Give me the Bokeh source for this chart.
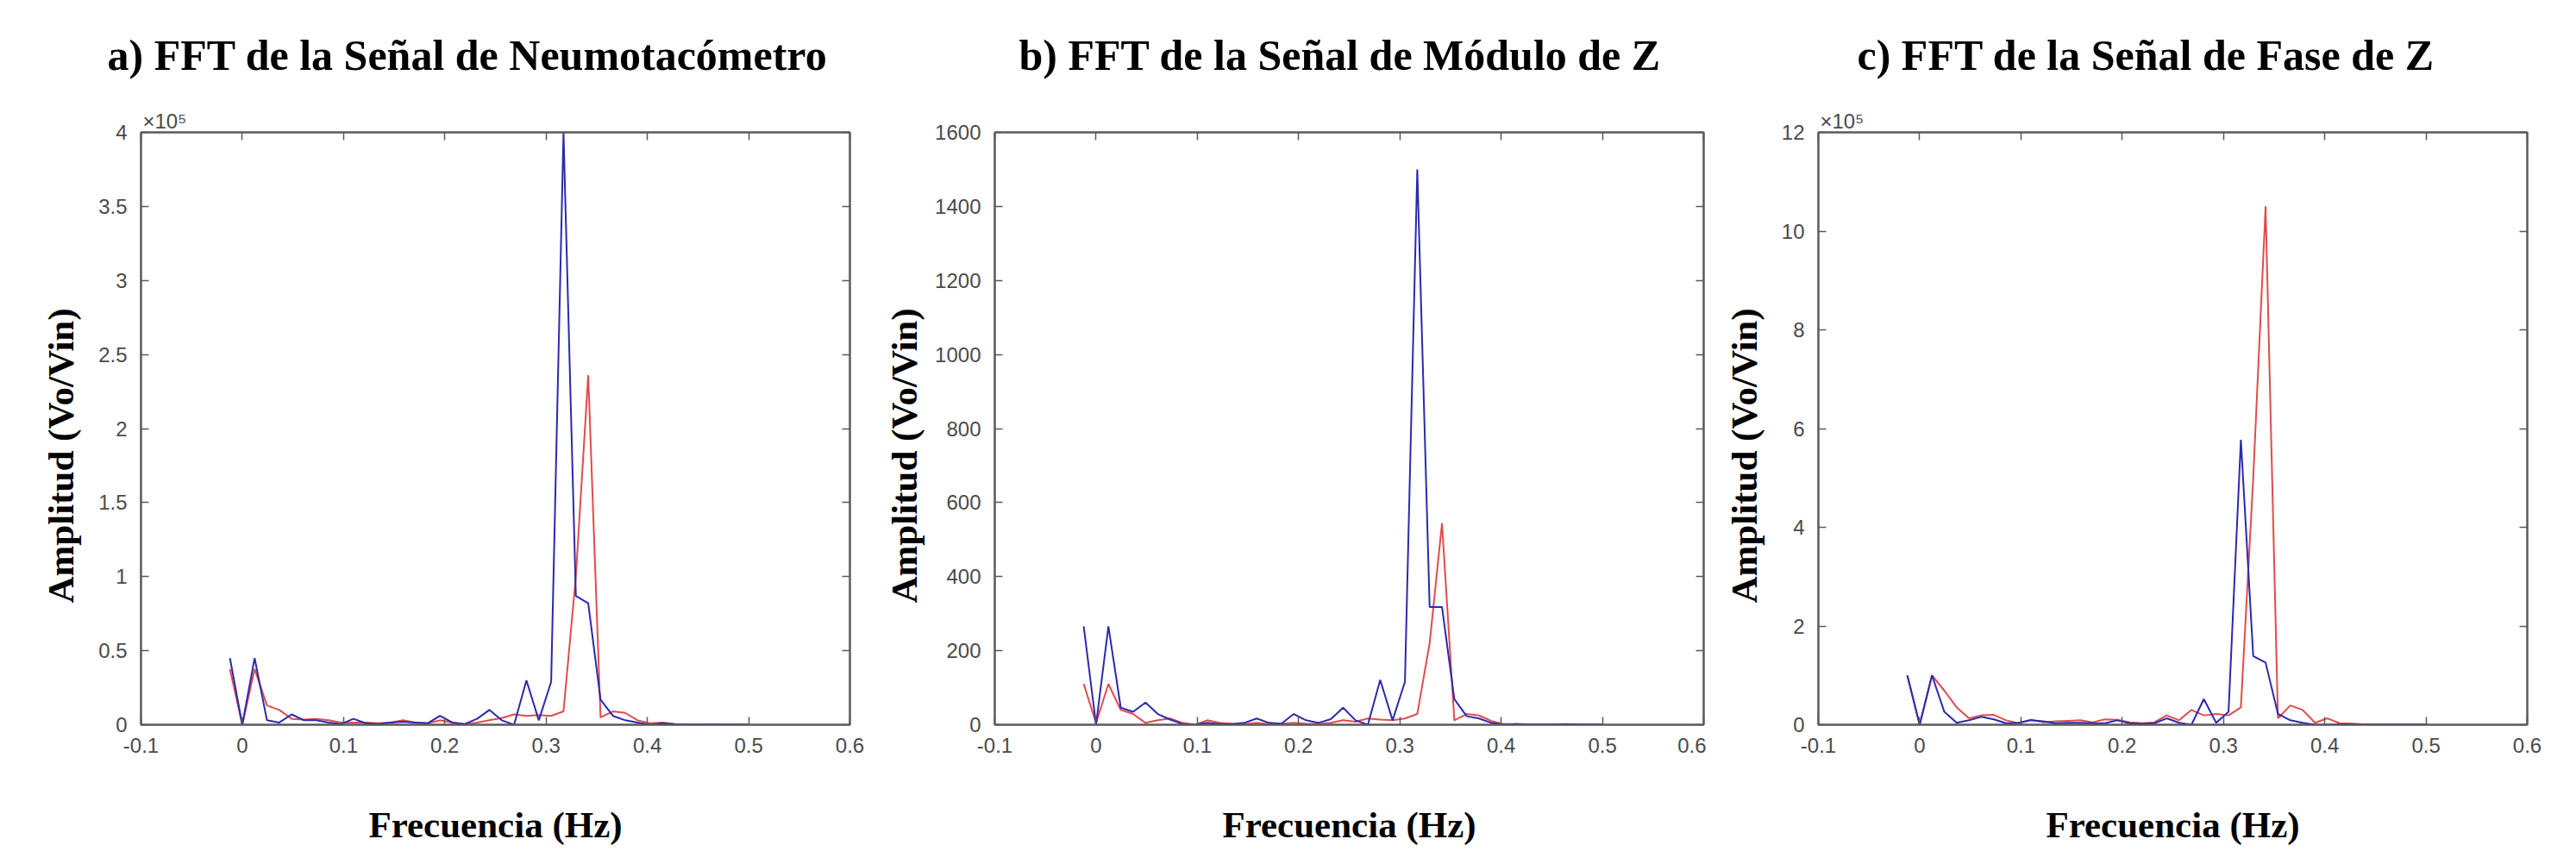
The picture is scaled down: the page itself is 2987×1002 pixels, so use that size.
from bokeh.plotting import figure
from bokeh.layouts import row
from bokeh.models import Range1d, FixedTicker, LinearAxis, Title
from bokeh.embed import file_html
from bokeh.resources import INLINE

# Frequency bins (Hz)
freq = [-0.0122, 0.0, 0.0122, 0.0244, 0.0366, 0.0488, 0.061, 0.0732, 0.0854, 0.0976,
        0.1098, 0.122, 0.1342, 0.1464, 0.1586, 0.1708, 0.183, 0.1952, 0.2074, 0.2196,
        0.2318, 0.244, 0.2562, 0.2684, 0.2806, 0.2928, 0.305, 0.3172, 0.3294, 0.3416,
        0.3538, 0.366, 0.3782, 0.3904, 0.4026, 0.4148, 0.427, 0.4392, 0.4514, 0.4636,
        0.4758, 0.488, 0.5002]

# a) Neumotacometro (x 1e5)
neumo_blue = [0.45, 0.0, 0.45, 0.03, 0.015, 0.07, 0.03, 0.03, 0.015, 0.005,
              0.04, 0.01, 0.005, 0.015, 0.02, 0.015, 0.01, 0.06, 0.015, 0.005,
              0.04, 0.10, 0.03, 0.0, 0.30, 0.03, 0.29, 4.0, 0.87, 0.82,
              0.17, 0.06, 0.03, 0.015, 0.0, 0.01, 0.005, 0.003, 0.002, 0.003,
              0.002, 0.001, 0.001]
neumo_red = [0.376, 0.0, 0.376, 0.13, 0.10, 0.04, 0.035, 0.04, 0.03, 0.015,
             0.015, 0.015, 0.01, 0.015, 0.03, 0.015, 0.01, 0.03, 0.015, 0.005,
             0.015, 0.03, 0.045, 0.07, 0.06, 0.065, 0.06, 0.09, 1.0, 2.36,
             0.05, 0.09, 0.08, 0.03, 0.01, 0.015, 0.005, 0.003, 0.002, 0.002,
             0.002, 0.001, 0.001]

# b) Modulo de Z
modulo_blue = [266, 0, 266, 46, 35, 60, 29, 14, 2, 0,
               5, 2, 2, 5, 17, 5, 3, 29, 12, 5,
               15, 46, 12, 0, 121, 12, 116, 1500, 318, 318,
               69, 23, 17, 5, 0, 2, 1, 1, 1, 2,
               1, 1, 1]
modulo_red = [110, 5, 110, 40, 29, 5, 12, 17, 5, 0,
              12, 5, 3, 2, 5, 2, 3, 5, 3, 2,
              5, 12, 8, 17, 14, 12, 17, 29, 220, 544,
              12, 29, 25, 10, 2, 2, 1, 1, 1, 1,
              1, 1, 1]

# c) Fase de Z (x 1e5)
fase_blue = [1.0, 0.0, 1.0, 0.26, 0.04, 0.09, 0.16, 0.11, 0.03, 0.04,
             0.09, 0.07, 0.03, 0.04, 0.04, 0.03, 0.03, 0.09, 0.03, 0.02,
             0.03, 0.13, 0.04, 0.0, 0.52, 0.04, 0.26, 5.77, 1.39, 1.26,
             0.22, 0.09, 0.04, 0.0, 0.0, 0.01, 0.01, 0.005, 0.005, 0.005,
             0.005, 0.005, 0.005]
fase_red = [1.0, 0.0, 1.0, 0.69, 0.35, 0.13, 0.19, 0.2, 0.09, 0.03,
            0.1, 0.05, 0.07, 0.08, 0.09, 0.05, 0.11, 0.1, 0.05, 0.03,
            0.05, 0.19, 0.09, 0.3, 0.19, 0.22, 0.19, 0.35, 5.0, 10.5,
            0.13, 0.39, 0.3, 0.04, 0.13, 0.03, 0.02, 0.01, 0.01, 0.01,
            0.01, 0.01, 0.01]

x_ticks = [-0.1, 0.0, 0.1, 0.2, 0.3, 0.4, 0.5, 0.6]
x_tick_labels = ["-0.1", "0", "0.1", "0.2", "0.3", "0.4", "0.5", "0.6"]

y_ticks_a = [0.0, 0.5, 1.0, 1.5, 2.0, 2.5, 3.0, 3.5, 4.0]
y_tick_labels_a = ["0", "0.5", "1", "1.5", "2", "2.5", "3", "3.5", "4"]
y_ticks_b = [0, 200, 400, 600, 800, 1000, 1200, 1400, 1600]
y_tick_labels_b = ["0", "200", "400", "600", "800", "1000", "1200", "1400", "1600"]
y_ticks_c = [0, 2, 4, 6, 8, 10, 12]
y_tick_labels_c = ["0", "2", "4", "6", "8", "10", "12"]

titles = ["a) FFT de la Señal de Neumotacómetro",
          "b) FFT de la Señal de Módulo de Z",
          "c) FFT de la Señal de Fase de Z"]
y_label = "Amplitud  (Vo/Vin)"
x_label = "Frecuencia (Hz)"
exp_text = "×10⁵"

BLUE = "#2a2aae"
RED = "#e04c4c"
AX = "#5a5a5a"
TXT = "#4a4a4a"
SERIF = "Liberation Serif"
SANS = "Liberation Sans"


def style_axis(ax, ticks, labels, show_labels=True):
    ax.ticker = FixedTicker(ticks=ticks)
    ax.major_label_overrides = {t: l for t, l in zip(ticks, labels)}
    ax.major_tick_in = 9
    ax.major_tick_out = 0
    ax.minor_tick_line_color = None
    ax.axis_line_color = AX
    ax.axis_line_width = 2
    ax.major_tick_line_color = AX
    ax.major_tick_line_width = 1.5
    ax.major_label_text_font = SANS
    ax.major_label_text_color = TXT
    if show_labels:
        ax.major_label_text_font_size = "24px"
    else:
        ax.major_label_text_font_size = "0px"
        ax.major_label_text_alpha = 0
        ax.major_label_standoff = 0


def make_panel(title, blue, red, yticks, ylabels, ymax, bl, br,
               title_dx, ylabel_standoff, exponent):
    p = figure(frame_width=822, frame_height=687,
               x_range=Range1d(-0.1, 0.6), y_range=Range1d(0, ymax),
               output_backend="svg", toolbar_location=None,
               title_location=None,
               min_border_left=bl, min_border_right=br,
               min_border_top=150, min_border_bottom=149)
    p.grid.visible = False
    p.outline_line_color = AX
    p.outline_line_width = 2
    p.background_fill_color = "white"
    p.border_fill_color = "white"

    p.line(freq, red, line_color=RED, line_width=2)
    p.line(freq, blue, line_color=BLUE, line_width=2)

    xa = p.xaxis[0]
    style_axis(xa, x_ticks, x_tick_labels)
    xa.major_label_standoff = 15
    xa.axis_label = x_label
    xa.axis_label_text_font = SERIF
    xa.axis_label_text_font_style = "bold"
    xa.axis_label_text_font_size = "43px"
    xa.axis_label_text_color = "black"
    xa.axis_label_standoff = 57

    ya = p.yaxis[0]
    style_axis(ya, yticks, ylabels)
    ya.major_label_standoff = 16

    top = LinearAxis()
    style_axis(top, x_ticks, x_tick_labels, show_labels=False)
    p.add_layout(top, "above")
    right = LinearAxis()
    style_axis(right, yticks, ylabels, show_labels=False)
    p.add_layout(right, "right")

    # exponent marker (a blank spacer of the same size where there is none)
    p.add_layout(Title(text=exp_text if exponent else " ", align="left",
                       offset=2, standoff=0, vertical_align="bottom",
                       text_font=SANS, text_font_style="normal",
                       text_font_size="24px", text_color=TXT), "above")
    p.add_layout(Title(text=title, align="left", offset=title_dx,
                       standoff=66, vertical_align="bottom",
                       text_font=SERIF, text_font_style="bold",
                       text_font_size="50px", text_color="black"), "above")
    p.add_layout(Title(text=y_label, align="left", offset=141,
                       standoff=ylabel_standoff, vertical_align="bottom",
                       text_font=SERIF, text_font_style="bold",
                       text_font_size="43px", text_color="black"), "left")
    return p


pa = make_panel(titles[0], neumo_blue, neumo_red, y_ticks_a, y_tick_labels_a,
                4.0, 163, 27, -39, 36, True)
pb = make_panel(titles[1], modulo_blue, modulo_red, y_ticks_b, y_tick_labels_b,
                1600, 140, 3, 28, 20, False)
pc = make_panel(titles[2], fase_blue, fase_red, y_ticks_c, y_tick_labels_c,
                12, 130, 42, 45, 34, True)

layout = row(pa, pb, pc)
open("out.html", "w").write(file_html(layout, INLINE, "FFT"))
